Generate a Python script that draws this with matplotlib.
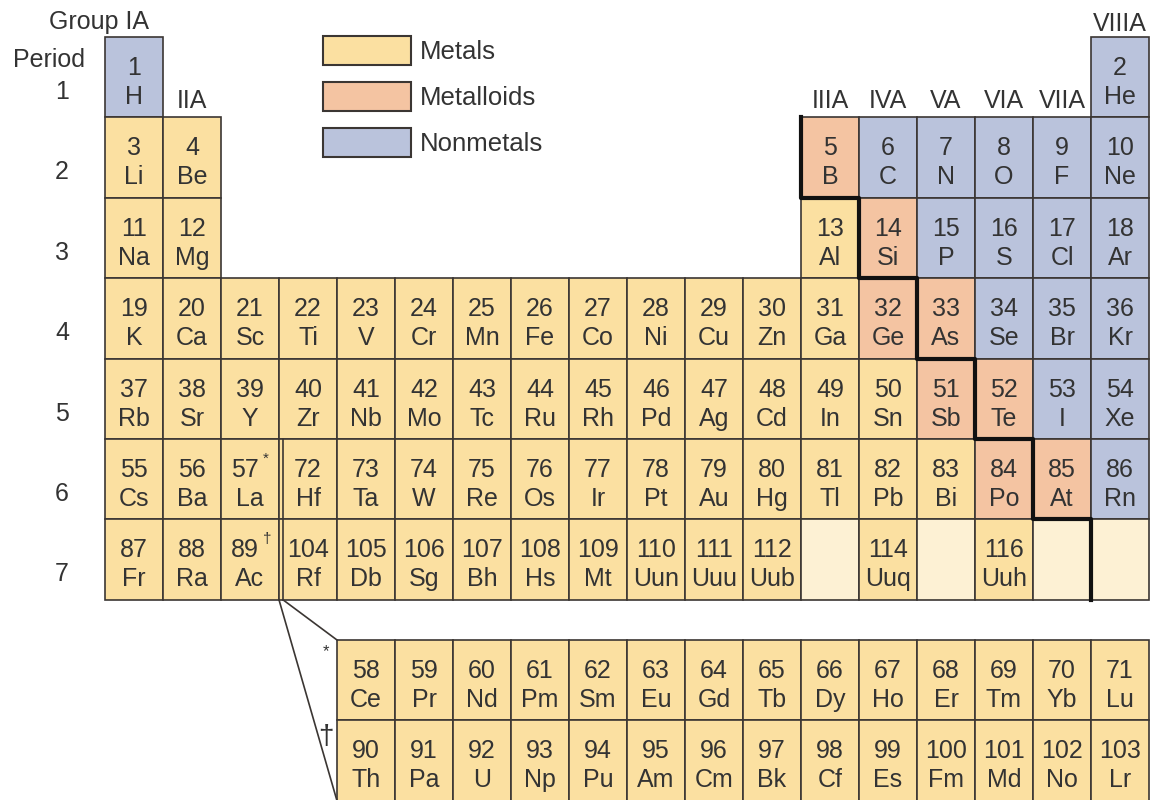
import matplotlib
matplotlib.use("Agg")
import matplotlib.pyplot as plt
from matplotlib.patches import Rectangle

plt.rcParams['font.family'] = ['Liberation Sans', 'DejaVu Sans']

# main table, one list per period (18 groups); "" = no element shown
main_symbols = [
    ["H"] + [""] * 16 + ["He"],
    ["Li", "Be"] + [""] * 10 + ["B", "C", "N", "O", "F", "Ne"],
    ["Na", "Mg"] + [""] * 10 + ["Al", "Si", "P", "S", "Cl", "Ar"],
    ["K", "Ca", "Sc", "Ti", "V", "Cr", "Mn", "Fe", "Co", "Ni", "Cu", "Zn",
     "Ga", "Ge", "As", "Se", "Br", "Kr"],
    ["Rb", "Sr", "Y", "Zr", "Nb", "Mo", "Tc", "Ru", "Rh", "Pd", "Ag", "Cd",
     "In", "Sn", "Sb", "Te", "I", "Xe"],
    ["Cs", "Ba", "La", "Hf", "Ta", "W", "Re", "Os", "Ir", "Pt", "Au", "Hg",
     "Tl", "Pb", "Bi", "Po", "At", "Rn"],
    ["Fr", "Ra", "Ac", "Rf", "Db", "Sg", "Bh", "Hs", "Mt", "Uun", "Uuu", "Uub",
     "", "Uuq", "", "Uuh", "", ""],
]
main_numbers = [
    [1] + [None] * 16 + [2],
    [3, 4] + [None] * 10 + [5, 6, 7, 8, 9, 10],
    [11, 12] + [None] * 10 + [13, 14, 15, 16, 17, 18],
    [19, 20, 21, 22, 23, 24, 25, 26, 27, 28, 29, 30, 31, 32, 33, 34, 35, 36],
    [37, 38, 39, 40, 41, 42, 43, 44, 45, 46, 47, 48, 49, 50, 51, 52, 53, 54],
    [55, 56, 57, 72, 73, 74, 75, 76, 77, 78, 79, 80, 81, 82, 83, 84, 85, 86],
    [87, 88, 89, 104, 105, 106, 107, 108, 109, 110, 111, 112,
     None, 114, None, 116, None, None],
]
# M metal, L metalloid, N nonmetal, E empty slot, . no cell
main_kinds = [
    "N................N",
    "MM..........LNNNNN",
    "MM..........MLNNNN",
    "MMMMMMMMMMMMMLLNNN",
    "MMMMMMMMMMMMMMLLNN",
    "MMMMMMMMMMMMMMMLLN",
    "MMMMMMMMMMMMEMEMEE",
]

f_symbols = [
    ["Ce", "Pr", "Nd", "Pm", "Sm", "Eu", "Gd", "Tb", "Dy", "Ho", "Er", "Tm", "Yb", "Lu"],
    ["Th", "Pa", "U", "Np", "Pu", "Am", "Cm", "Bk", "Cf", "Es", "Fm", "Md", "No", "Lr"],
]
f_numbers = [
    [58, 59, 60, 61, 62, 63, 64, 65, 66, 67, 68, 69, 70, 71],
    [90, 91, 92, 93, 94, 95, 96, 97, 98, 99, 100, 101, 102, 103],
]
f_marks = ["*", "\u2020"]
note_marks = {57: "*", 89: "\u2020"}

group_labels = ["IIA", "IIIA", "IVA", "VA", "VIA", "VIIA"]
group_cols = [2, 13, 14, 15, 16, 17]
periods = ["1", "2", "3", "4", "5", "6", "7"]

legend_names = ["Metals", "Metalloids", "Nonmetals"]
legend_kinds = ["M", "L", "N"]

# metal/metalloid boundary as (grid column edge, grid row edge)
stair = [(12, 1), (12, 2), (13, 2), (13, 3), (14, 3), (14, 4), (15, 4),
         (15, 5), (16, 5), (16, 6), (17, 6), (17, 7)]

colors = {"M": "#fbe0a1", "L": "#f4c4a2", "N": "#bac3dc", "E": "#fdf1d4"}
edge = "#3b3633"
ink = "#333333"

x0, cw = 105, 58
y0, rh = 37, 80.4

fig = plt.figure(figsize=(11.61, 8.0), dpi=100)
ax = fig.add_axes([0, 0, 1, 1])
ax.set_xlim(0, 1161)
ax.set_ylim(800, 0)
ax.axis("off")


def cell(col, top, kind, num, sym):
    left = x0 + (col - 1) * cw
    ax.add_patch(Rectangle((left, top), cw, rh, facecolor=colors[kind],
                           edgecolor=edge, lw=1.2, zorder=1))
    cx = left + cw / 2
    if num is not None:
        mark = note_marks.get(num)
        shift = -5 if mark else 0
        ax.text(cx + shift, top + 38, str(num), ha="center", va="baseline",
                fontsize=18, color=ink, zorder=3)
        if mark:
            ax.text(cx + 13, top + 24, mark, ha="left", va="baseline",
                    fontsize=11, color=ink, zorder=3)
    if sym:
        ax.text(cx, top + 67, sym, ha="center", va="baseline",
                fontsize=18, color=ink, zorder=3)


for r, (syms, nums, kinds) in enumerate(zip(main_symbols, main_numbers, main_kinds)):
    top = y0 + r * rh
    for c in range(18):
        if kinds[c] == ".":
            continue
        cell(c + 1, top, kinds[c], nums[c], syms[c])

for r, (syms, nums) in enumerate(zip(f_symbols, f_numbers)):
    top = y0 + (7.5 + r) * rh
    for c in range(len(syms)):
        cell(c + 5, top, "M", nums[c], syms[c])
    ax.text(x0 + 4 * cw - 11, top + 4, f_marks[r], ha="center",
            va="top", fontsize=12 if r == 0 else 20, color=ink)

# staircase boundary
ax.plot([x0 + k * cw for k, _ in stair], [y0 + j * rh for _, j in stair],
        color="#111111", lw=3.0, solid_capstyle="projecting", zorder=4)

# double line after the La/Ac column and the lead-out lines to the f block
xs = x0 + 3 * cw
ax.plot([xs + 4, xs + 4], [y0 + 5 * rh, y0 + 7 * rh], color=edge, lw=1.2, zorder=2)
ax.plot([xs, x0 + 4 * cw], [y0 + 7 * rh, y0 + 9.5 * rh], color=edge, lw=1.2)
ax.plot([xs + 4, x0 + 4 * cw], [y0 + 7 * rh, y0 + 7.5 * rh], color=edge, lw=1.2)

# headings
ax.text(x0 + cw - 14, 29, "Group IA", ha="right", va="baseline", fontsize=18, color=ink)
ax.text(x0 + 17.5 * cw, 31, "VIIIA", ha="center", va="baseline", fontsize=18, color=ink)
for lab, col in zip(group_labels, group_cols):
    ax.text(x0 + (col - 0.5) * cw, 108, lab, ha="center", va="baseline",
            fontsize=18, color=ink)
ax.text(49, 67, "Period", ha="center", va="baseline", fontsize=18, color=ink)
for r, p in enumerate(periods):
    ax.text(62, y0 + r * rh + 62, p, ha="center", va="baseline", fontsize=18, color=ink)

# legend
for i, (name, kind) in enumerate(zip(legend_names, legend_kinds)):
    ax.add_patch(Rectangle((323, 36 + i * 46), 88, 29, facecolor=colors[kind],
                           edgecolor=edge, lw=1.5))
    ax.text(420, 59 + i * 46, name, ha="left", va="baseline", fontsize=18.5, color=ink)

fig.savefig("out.png", dpi=100)
